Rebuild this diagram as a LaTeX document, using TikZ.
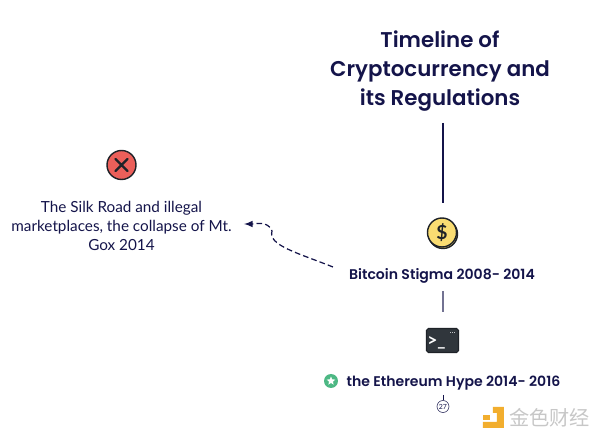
\documentclass[tikz,border=0pt]{standalone}
\usepackage{fontspec}
\setmainfont{Lato}
\newfontfamily\titlefont{Poppins SemiBold}
\newfontfamily\cjk{Noto Sans CJK SC}
\usetikzlibrary{arrows}
\usetikzlibrary{shapes.geometric}
\definecolor{navy}{HTML}{14144A}
\definecolor{ink}{HTML}{1E2228}
\definecolor{crossred}{HTML}{EB5F5A}
\definecolor{coinyellow}{HTML}{F9DC72}
\definecolor{termgrey}{HTML}{30363C}
\definecolor{stargreen}{HTML}{4DB884}
\definecolor{logoorange}{HTML}{F2AE2E}

\begin{document}
\begin{tikzpicture}
	[x=0.02cm,y=-0.02cm,line width=0.6,
	title/.style = {
		text=navy, align=center, font=\titlefont\fontsize{12.15}{16.5}\selectfont
	},
	stage/.style = {
		text=navy, font=\titlefont\fontsize{8}{10}\selectfont
	},
	note/.style = {
		text=navy, align=center, font=\fontsize{8.7}{10.6}\selectfont
	},
	wire/.style = {
		navy, line width=0.8
	},
	dashwire/.style = {
		navy, line width=0.7, dash pattern=on 3.2pt off 1.8pt
	},
	icon/.style = {
		draw=ink, circle, inner sep=0cm, line width=0.8
	}]
	\useasboundingbox (0,0) rectangle (600,439);
	
	%Draw nodes
	\node[title] at (440,71) (head) {Timeline of\\Cryptocurrency and\\ its Regulations};
	\node[icon, fill=crossred, minimum size=0.58cm] at (121.5,165) (cross) {};
	\node[note] at (121.5,226) (silk) {The Silk Road and illegal\\marketplaces, the collapse of Mt.\\Gox 2014};
	\node[icon, fill=coinyellow, minimum size=0.58cm] at (443,234) (coin2) {};
	\node[icon, fill=coinyellow, minimum size=0.58cm] at (442,232.5) (coin) {\fontsize{11}{11}\selectfont\bfseries\color{ink}\$};
	\node[stage] at (442,276) (btc) {Bitcoin Stigma 2008- 2014};
	\node[fill=termgrey, draw=ink, rounded corners=1pt, minimum width=0.64cm, minimum height=0.48cm, inner sep=0cm] at (442.5,340.5) (term) {};
	\node[text=white, font=\fontsize{10}{10}\selectfont\bfseries, inner sep=0cm] at (436.5,343) (prompt) {>\_};
	\node[fill=stargreen, circle, inner sep=0cm, minimum size=0.28cm] at (331,381) (badge) {};
	\node[fill=white, star, star points=5, star point ratio=2.2, inner sep=0cm, minimum size=0.18cm] at (331,381) (bstar) {};
	\node[stage] at (453.5,383) (eth) {the Ethereum Hype 2014- 2016};
	\node[draw=navy, circle, line width=0.3, inner sep=0cm, minimum size=0.24cm, text=navy, font=\fontsize{4}{4}\selectfont] at (443,406.5) (page) {27};
	\node[fill=logoorange, inner sep=0cm, minimum width=0.14cm, minimum height=0.1cm] at (486.5,417.5) (dot) {};
	\node[text=black!22, font=\cjk\fontsize{11.5}{11.5}\selectfont, inner sep=0cm] at (549.5,418) (mark) {金色财经};
	\coordinate (htop) at (443,123);
	\coordinate (hbot) at (443,203);
	\coordinate (btop) at (443,291);
	\coordinate (bbot) at (443,312);
	\coordinate (etop) at (443,395);
	\coordinate (dstart) at (333,267);
	\coordinate (dend) at (244,224);
	
	%Draw wires
	\draw[wire] (htop) -- (hbot);
	\draw[wire, navy!60, line width=0.6] (btop) -- (bbot);
	\draw[wire, line width=0.3] (etop) -- (page);
	\draw[dashwire,-latex] (dstart) .. controls (295,252) and (268,245) .. (272,231) to[out=110, in=0] (dend);
	\draw[ink, line width=1.3, line cap=round] (cross.center) ++(-6,-6) -- ++(12,12) ++(-12,0) -- ++(12,-12);
	\draw[termgrey!30, line width=0.5, dash pattern=on 0.6pt off 0.6pt] (term.north east) ++(-9,4) -- ++(6,0);
	\fill[logoorange] (493,407) -- (504,407) -- (504,428) -- (483,428) -- (483,422) -- (497,422) -- (497,413) -- (493,413) -- cycle;
\end{tikzpicture}
\end{document}
